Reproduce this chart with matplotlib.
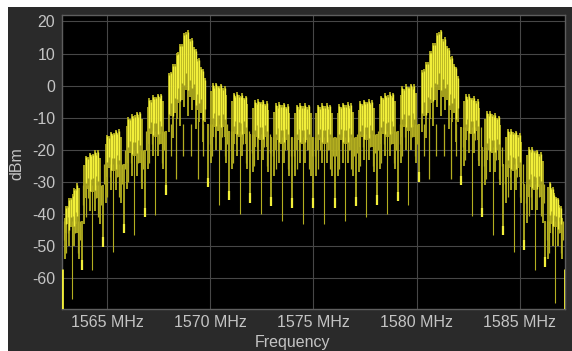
import numpy as np
import matplotlib
matplotlib.use("Agg")
import matplotlib.pyplot as plt
from matplotlib.patches import Rectangle

plt.rcParams['font.family'] = ['Liberation Sans', 'DejaVu Sans']
plt.rcParams['axes.unicode_minus'] = False

# ---------------- data ----------------
span_mhz = [1562.8, 1587.2]
null_mhz = [1563.747, 1564.770, 1565.793, 1566.816, 1567.839, 1569.885, 1570.908,
            1571.931, 1572.954, 1573.977, 1575.000, 1576.023, 1577.046, 1578.069,
            1579.092, 1580.115, 1582.161, 1583.184, 1584.207, 1585.230, 1586.253]
null_dbm = [-57.4, -50.2, -46.0, -41.0, -34.0, -31.6, -35.7, -36.4, -37.5, -38.0,
            -38.0, -38.0, -37.5, -37.0, -36.0, -30.0, -31.0, -41.0, -46.6, -51.0, -56.3]
lobe_top_left_dbm = [-40, -22, -15.5, -10, -4, 1, 1.5, -1.5, -4, -5, -5.5,
                     -5.5, -5.5, -4.5, -3, 0, 2, -1.5, -7, -12.5, -18, -26.5]
lobe_top_right_dbm = [-27, -19, -12.5, -7, -1.5, 1, 0, -3, -4.5, -5.5, -5.5,
                      -5.5, -5, -4, -1.5, 1, 2, -4.5, -9.5, -15, -21, -40]
lobe_body_dbm = [-42, -31, -24.5, -20, -14, -12, -12, -14, -15, -16, -16,
                 -16, -16, -15, -14, -12, -12, -13, -19, -24.5, -30.6, -42]
lobe_spike_dbm = [-66.5, -57.4, -51.7, -46.6, -40.4, -29, -37, -40, -40, -42, -43,
                  -43, -42, -41, -40, -37, -29, -40.5, -46.6, -51.7, -57.4, -67.5]
main_peak_dbm = [18.0, 18.0]
main_notch_dbm = [-1.0, -1.0]
edge_top_dbm = [-57.0, -57.0]

xtick_mhz = [1565, 1570, 1575, 1580, 1585]
xtick_labels = ['1565 MHz', '1570 MHz', '1575 MHz', '1580 MHz', '1585 MHz']
ytick_dbm = [-60, -50, -40, -30, -20, -10, 0, 10, 20]
ylim_dbm = [-69.5, 22.0]

# ---------------- style ----------------
W, H = 572, 351
FIG_BG = '#2a2a2a'
TXT = '#c4c4c4'
GRID = '#474747'
SPINE = '#5e5e5e'
OLIVE = '#b3ae20'
BRIGHT = '#f2ef3a'

fig = plt.figure(figsize=(W / 100, H / 100), dpi=100, facecolor='white')
fig.patches.append(Rectangle((8 / W, 0), 1 - 8 / W, (H - 7) / H,
                             transform=fig.transFigure, facecolor=FIG_BG,
                             edgecolor='none', zorder=-10))
ax = fig.add_axes([62 / W, (H - 309) / H, 503 / W, 294 / H])
ax.set_facecolor('black')
ax.set_xlim(*span_mhz)
ax.set_ylim(*ylim_dbm)

edges = [span_mhz[0]] + list(null_mhz) + [span_mhz[1]]
jag = [3.0, 0.4, 1.2, 0.0, 0.8, 0.8, 0.0, 1.2, 0.4, 3.0]
extra = [12, 4, 1, 8, 2, 2, 8, 1, 4, 12]
comb_fr = [0.08, 0.2, 0.33, 0.67, 0.8, 0.92]
comb_extra = [6, 10, 4, 4, 10, 6]
main_i = 0
for j in range(len(edges) - 1):
    a, b = edges[j], edges[j + 1]
    w = b - a
    tl, tr = lobe_top_left_dbm[j], lobe_top_right_dbm[j]
    body = lobe_body_dbm[j]
    if w > 1.5:
        n = 20
        fr = 0.05 + 0.9 * (np.arange(n) + 0.5) / n
        xs = a + w * fr
        peak = main_peak_dbm[main_i]
        notch = main_notch_dbm[main_i]
        main_i += 1
        tri = np.where(fr < 0.5, tl + (peak - tl) * fr / 0.5,
                       tr + (peak - tr) * (1 - fr) / 0.5)
        lam = np.where(fr < 0.5, body + (notch - body) * fr / 0.5,
                       body + (notch - body) * (1 - fr) / 0.5)
        hi = tri + 0.6 - np.tile([0.0, 1.2, 0.4, 1.8], n // 4)
        lo = lam - np.tile([4.0, 0.0, 8.0, 1.0], n // 4)
        ax.vlines(xs, lo, hi, colors=OLIVE, lw=1.3, zorder=3)
        ax.vlines(xs, lo + 0.3 * (hi - lo), hi - 0.6, colors=BRIGHT, lw=1.0,
                  zorder=4)
        for q in (0.25, 0.75):
            ax.vlines(a + w * q, lobe_spike_dbm[j], body + 2, colors=OLIVE,
                      lw=0.9, zorder=2)
        for q in (0.12, 0.4, 0.6, 0.88):
            ax.vlines(a + w * q, body - 10, body, colors=OLIVE, lw=0.9, zorder=2)
    else:
        n = 10
        fr = 0.1 + 0.8 * (np.arange(n) + 0.5) / n
        xs = a + w * fr
        top = tl + (tr - tl) * fr
        hi = top - np.array(jag)
        lo = body - np.array(extra)
        ax.vlines(xs, lo, hi, colors=OLIVE, lw=1.3, zorder=3)
        ax.vlines(xs[1:-1], (lo + 0.35 * (hi - lo))[1:-1], hi[1:-1] - 0.5,
                  colors=BRIGHT, lw=1.0, zorder=4)
        ax.vlines(a + w * np.array(comb_fr), body - np.array(comb_extra), body,
                  colors=OLIVE, lw=0.9, zorder=2)
        ax.vlines(a + w * 0.5, lobe_spike_dbm[j], body, colors=OLIVE,
                  lw=0.8, zorder=2)

for k, (f, d) in enumerate(zip(null_mhz, null_dbm)):
    up = min(lobe_body_dbm[k], lobe_body_dbm[k + 1])
    ax.vlines(f, d, up, colors=OLIVE, lw=1.3, zorder=2)
    ax.vlines(f, d, d + 3.0, colors=BRIGHT, lw=1.6, zorder=3)

for f, t in zip(span_mhz, edge_top_dbm):
    ax.vlines(f, ylim_dbm[0], t, colors=BRIGHT, lw=2.0, zorder=3)

# ---------------- axes cosmetics ----------------
ax.set_xticks(xtick_mhz)
ax.set_xticklabels(xtick_labels)
ax.set_yticks(ytick_dbm)
ax.set_yticklabels([str(v) for v in ytick_dbm])
ax.tick_params(length=0, colors=TXT, labelsize=11.5)
ax.tick_params(axis='x', pad=4)
ax.tick_params(axis='y', pad=5)
ax.grid(True, color=GRID, lw=0.8)
ax.set_axisbelow(True)
for s in ax.spines.values():
    s.set_color(SPINE)
    s.set_linewidth(1.0)

fig.text(17 / W, 1 - 164 / H, 'dBm', rotation=90, ha='center', va='center',
         color=TXT, fontsize=11.5)
fig.text(292 / W, 1 - 343 / H, 'Frequency', ha='center', va='center',
         color=TXT, fontsize=11.5)

fig.savefig('out.png', dpi=100, facecolor=fig.get_facecolor())
